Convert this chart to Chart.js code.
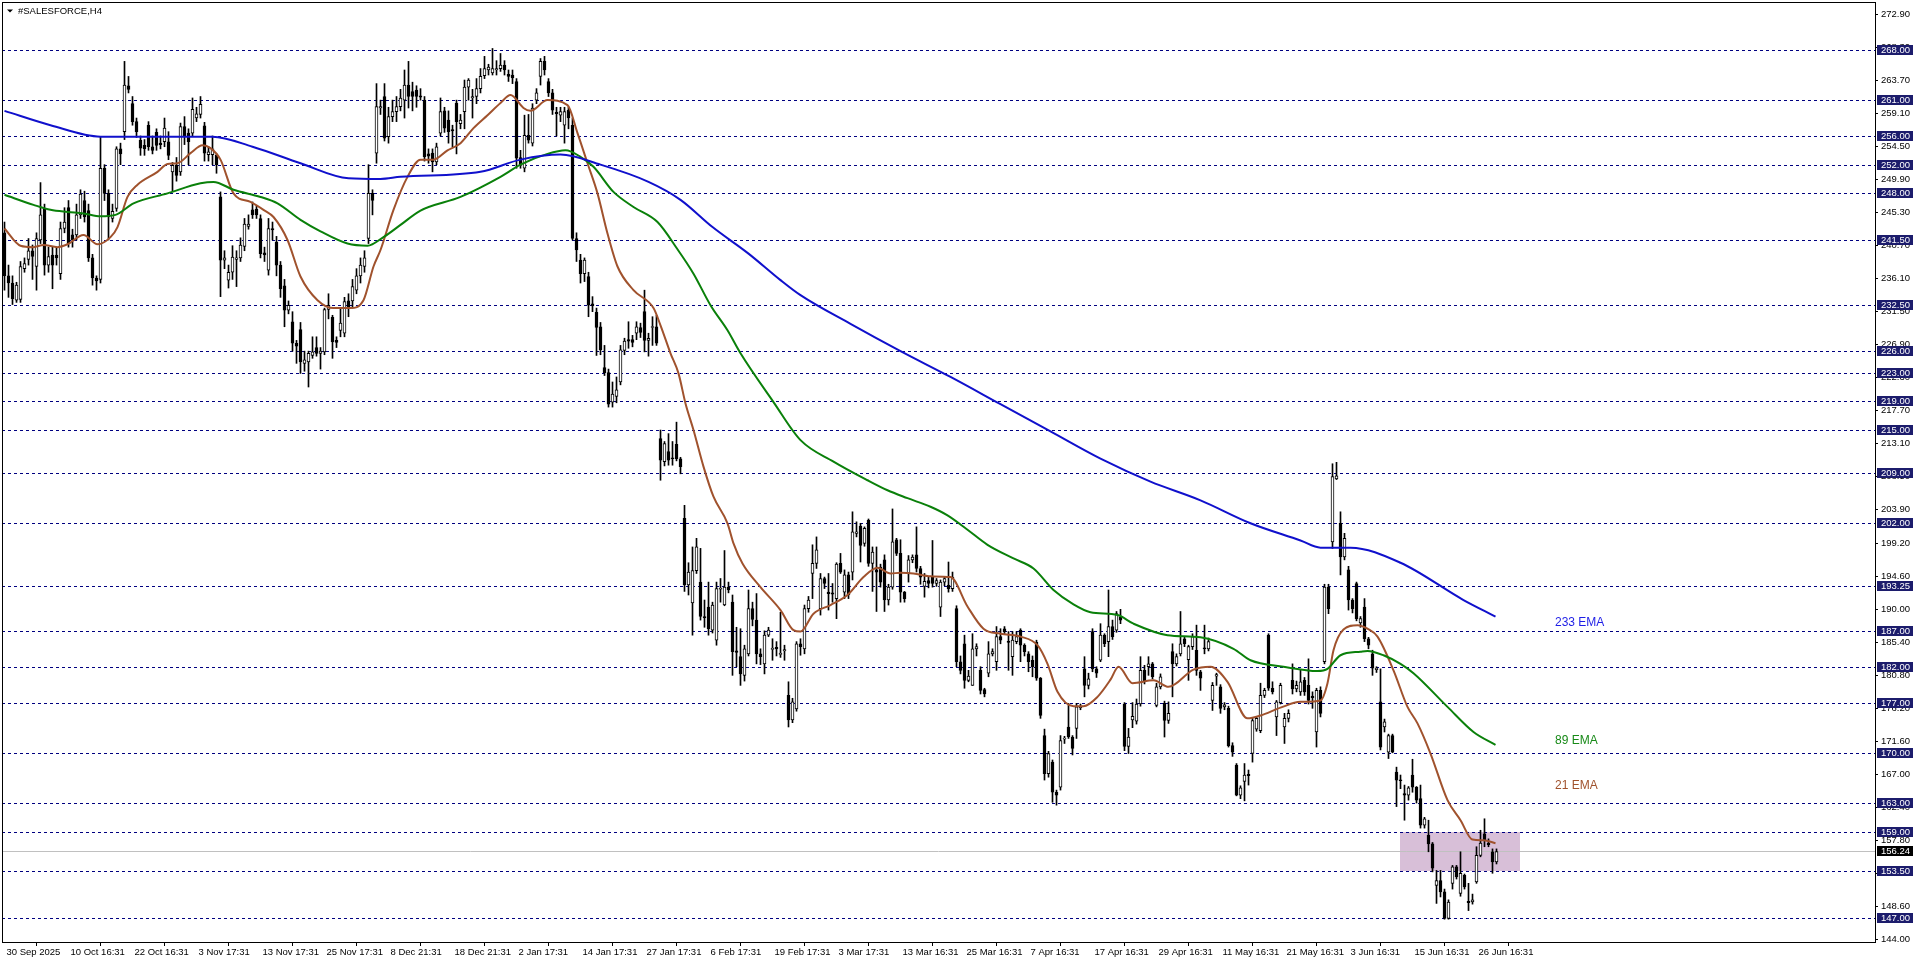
<!DOCTYPE html>
<html>
<head>
<meta charset="utf-8">
<script src="https://cdn.jsdelivr.net/npm/chart.js@4.4.1/dist/chart.umd.min.js"></script>
<style>
html, body { margin: 0; padding: 0; background: #fff; overflow: hidden; }
#wrap { width: 1916px; height: 963px; }
</style>
</head>
<body>
<div id="wrap"><canvas id="chart" width="1916" height="963"></canvas></div>
<script>
// H4 candles, one per bar
const opens = [
  242.5,236.5,235.5,233.1,233.2,237.5,238.8,240.0,237.8,241.5,
  245.9,238.0,239.4,239.4,236.8,243.1,246.0,242.2,242.2,245.0,
  247.0,245.6,239.0,236.2,236.0,251.5,248.0,244.5,245.9,254.2,
  256.6,263.0,260.5,258.0,255.4,254.7,257.5,254.5,256.5,255.0,
  255.2,255.2,251.0,251.9,251.0,257.3,256.4,256.4,258.5,259.0,
  257.4,253.4,253.4,253.3,247.5,238.7,235.9,237.0,238.8,239.0,
  240.6,243.4,245.7,245.8,244.5,239.7,237.3,243.1,241.2,238.0,
  235.1,231.7,230.1,227.1,229.0,224.3,224.5,225.4,226.5,225.7,
  225.9,231.8,230.7,227.5,228.9,228.5,233.0,233.0,234.5,236.5,
  237.8,241.7,248.0,253.6,259.9,261.5,255.9,258.7,259.4,260.1,
  261.0,263.1,262.2,262.4,261.6,261.0,253.5,253.6,252.4,256.4,
  259.5,258.2,256.9,260.6,257.7,259.4,262.8,261.3,261.5,262.6,
  264.4,265.2,264.8,265.2,265.4,265.9,264.6,264.5,263.6,253.0,
  251.5,256.1,255.0,261.0,264.3,266.4,263.6,262.0,259.3,258.9,
  257.5,259.6,257.5,241.7,238.7,236.8,236.4,232.6,231.4,229.4,
  223.7,223.0,218.9,219.7,221.7,226.1,227.6,227.6,228.5,229.3,
  231.5,227.5,229.3,229.4,213.8,210.6,212.0,211.1,213.0,211.0,
  202.7,193.4,190.9,195.4,193.8,189.0,190.3,187.1,185.7,192.8,
  190.6,193.1,191.0,184.2,183.4,180.8,183.8,190.1,188.5,183.8,
  182.4,186.4,184.4,184.7,183.7,184.2,178.0,174.6,176.1,185.2,
  184.5,190.1,195.0,196.4,190.1,194.3,192.4,192.3,191.5,196.4,
  192.4,194.8,195.2,200.6,201.6,199.2,202.4,196.4,195.5,195.9,
  196.9,191.3,193.1,199.7,197.8,192.4,195.0,196.9,197.6,195.7,
  193.2,194.0,194.5,193.6,190.3,193.8,193.4,192.9,190.1,182.7,
  185.2,180.1,179.4,184.5,181.5,178.8,181.1,183.8,182.7,186.2,
  187.3,185.5,183.4,185.5,187.1,185.0,183.8,182.9,185.4,180.4,
  172.4,167.1,168.7,164.5,165.2,171.9,173.6,172.2,173.4,176.3,
  181.7,179.4,186.9,181.7,182.9,186.4,185.5,187.6,187.1,188.9,
  176.8,170.9,174.6,174.4,176.8,181.5,182.0,182.4,176.6,179.2,
  176.9,174.5,184.1,182.4,183.8,185.9,183.0,184.8,184.3,181.3,
  184.6,184.5,177.3,180.7,179.2,176.4,176.2,171.0,168.3,164.1,
  166.0,167.0,169.9,173.3,173.1,178.0,186.4,179.0,175.0,177.0,
  173.6,174.8,180.1,178.9,178.5,180.1,179.4,177.9,172.9,178.7,
  182.7,193.1,199.4,208.2,202.0,197.3,195.5,191.3,193.6,188.1,
  190.3,185.9,183.8,181.6,177.1,173.6,170.1,172.4,167.3,166.2,
  164.3,164.1,166.9,165.2,163.6,159.9,158.5,157.3,151.5,152.2,
  150.6,146.9,151.8,154.1,150.4,152.9,149.3,149.2,152.0,155.7,
  158.7,157.4,156.2,154.8
];
const highs = [
  244.0,238.0,236.5,235.6,238.5,239.0,241.7,240.8,242.5,249.5,
  246.5,240.5,240.5,240.5,244.0,246.0,247.0,243.0,246.5,248.5,
  248.3,246.5,239.5,236.5,255.9,252.0,248.5,246.5,254.5,255.0,
  266.4,264.3,261.5,258.5,256.0,255.5,258.0,256.0,257.0,256.0,
  258.5,256.6,252.3,253.0,257.8,258.7,257.0,261.3,260.0,261.5,
  257.9,254.5,256.0,253.5,248.2,240.0,238.0,240.7,240.0,241.8,
  244.5,245.0,246.8,246.3,245.0,240.5,244.5,244.0,242.0,238.5,
  236.0,233.0,231.5,227.5,230.0,226.0,226.0,228.0,228.0,226.5,
  232.0,234.0,231.0,228.0,232.0,233.5,234.0,236.0,237.5,239.0,
  240.0,252.0,248.5,263.3,261.0,263.3,260.0,261.0,261.5,262.5,
  265.2,266.4,263.5,263.0,262.6,261.5,254.2,254.2,255.0,261.3,
  260.0,259.5,257.5,261.0,259.0,263.8,264.0,262.5,264.0,265.4,
  267.1,266.0,268.2,266.5,267.5,266.5,265.2,265.2,264.0,254.0,
  258.9,259.0,260.5,262.6,266.8,267.1,264.0,262.5,260.0,260.0,
  260.0,260.0,258.5,242.5,239.5,239.0,237.0,233.6,232.0,230.0,
  226.8,223.5,221.7,222.4,226.8,227.8,230.1,228.2,230.1,229.9,
  234.5,228.5,230.8,231.0,215.0,213.4,214.5,213.4,216.1,211.2,
  204.5,196.5,198.7,199.9,198.5,191.3,193.8,191.0,193.8,194.3,
  198.2,193.8,192.0,187.5,187.3,185.0,192.7,191.0,192.2,184.5,
  187.0,187.5,185.9,185.5,189.6,185.0,179.9,177.6,185.5,185.9,
  190.6,191.8,199.0,200.1,195.0,194.5,195.0,193.6,196.5,197.8,
  195.5,195.2,203.6,202.2,202.0,201.5,202.6,198.7,198.7,196.3,
  197.6,193.5,204.0,199.9,199.7,192.5,197.5,197.6,201.5,196.0,
  195.0,194.5,199.6,194.3,194.1,194.5,196.6,195.2,190.5,183.5,
  186.4,181.5,186.6,185.2,182.0,179.0,185.5,184.5,187.6,187.3,
  187.6,186.9,186.9,186.9,187.3,185.2,184.1,183.5,185.7,180.5,
  173.3,170.2,169.0,164.8,172.4,172.3,176.9,172.4,176.9,176.8,
  183.4,181.1,187.3,182.0,188.0,186.6,192.7,188.5,189.7,190.0,
  177.0,173.4,177.0,177.5,183.4,182.2,183.4,182.6,179.7,181.0,
  177.2,177.1,185.2,183.8,189.7,186.2,185.0,186.6,187.8,181.5,
  187.8,186.0,179.8,181.1,179.5,177.0,176.5,171.4,168.5,165.4,
  168.5,167.6,174.8,175.0,179.7,179.0,186.6,179.9,177.3,179.7,
  175.5,176.0,182.4,180.0,181.5,180.5,183.1,178.5,179.0,179.2,
  193.5,193.5,210.3,210.5,203.6,200.6,196.0,191.5,193.8,189.0,
  191.5,186.1,184.3,182.0,181.7,174.7,172.6,172.6,168.0,166.9,
  165.5,165.3,169.1,165.3,165.5,161.0,160.6,157.5,153.6,153.6,
  151.0,149.5,154.3,154.3,156.2,153.1,151.8,150.3,156.9,159.2,
  160.8,158.0,156.6,156.6
];
const lows = [
  234.5,233.5,232.5,232.8,232.8,237.0,238.0,236.0,234.5,241.0,
  236.6,237.0,234.7,238.0,236.0,242.5,240.5,240.5,241.5,244.5,
  244.0,238.5,235.2,234.5,235.5,247.0,241.5,244.0,245.5,252.0,
  255.5,262.0,257.5,255.8,253.3,253.3,254.0,253.5,254.0,254.2,
  254.5,252.7,248.3,249.7,250.5,254.8,252.0,256.0,258.0,258.5,
  252.5,252.5,252.0,250.8,233.6,237.5,234.8,236.0,235.0,238.5,
  240.0,243.0,244.5,244.5,239.0,238.5,236.6,241.5,236.5,233.5,
  229.4,231.2,226.0,224.3,222.9,223.2,221.0,225.0,225.3,223.5,
  225.5,230.5,225.0,226.5,228.0,228.0,230.8,232.0,234.0,235.5,
  237.0,241.0,245.0,252.2,259.0,255.3,255.0,258.0,258.0,259.5,
  258.5,259.9,259.5,260.0,261.0,252.5,252.2,251.0,252.0,256.0,
  256.5,255.0,254.5,253.5,257.0,257.0,261.0,258.5,260.5,262.0,
  264.0,264.5,264.5,264.5,265.0,264.5,263.6,263.3,251.5,251.5,
  251.0,255.0,254.6,260.5,263.1,264.5,261.5,259.0,256.0,258.0,
  255.0,257.0,241.5,238.5,235.5,235.7,230.8,231.5,225.4,225.5,
  222.6,218.2,218.2,218.8,221.3,225.5,226.4,226.6,227.6,227.9,
  225.9,225.3,226.8,226.8,208.0,210.0,210.1,210.1,210.7,208.9,
  192.5,192.0,186.4,195.0,188.5,187.5,186.4,186.7,185.0,191.0,
  190.5,192.3,180.8,182.0,179.4,180.0,183.5,187.7,182.4,182.3,
  181.0,186.2,182.9,183.5,183.3,182.9,173.6,174.2,175.8,183.6,
  183.8,189.6,191.5,195.7,189.2,192.9,189.9,191.0,188.7,195.0,
  191.5,191.5,194.1,200.1,196.6,198.8,196.0,192.5,189.7,193.1,
  189.7,190.6,192.8,197.5,191.0,191.0,193.8,196.5,195.2,193.5,
  191.7,193.0,193.1,193.2,189.0,193.3,192.4,192.5,182.0,181.0,
  179.0,179.9,179.4,183.5,178.2,177.8,180.6,183.5,181.5,185.2,
  186.5,181.5,180.8,185.2,182.7,183.5,181.3,180.6,180.1,174.8,
  166.2,166.6,163.1,162.7,164.8,171.3,172.0,169.7,172.0,176.0,
  177.8,178.9,181.3,180.5,182.7,184.8,183.4,185.8,186.8,188.0,
  170.3,169.9,173.5,174.0,176.5,179.6,180.8,180.3,176.4,178.9,
  172.2,174.1,177.8,182.1,183.5,184.8,180.1,184.4,180.8,178.7,
  183.8,184.2,175.9,179.4,175.5,176.0,170.8,169.5,164.0,163.6,
  163.3,165.5,168.7,173.0,172.8,177.7,178.7,178.2,172.4,176.8,
  171.3,174.3,178.2,178.5,178.0,178.0,176.8,176.2,170.8,175.0,
  182.4,189.4,198.5,208.1,194.8,196.9,189.9,189.5,188.4,187.5,
  185.5,184.5,180.8,181.2,170.4,172.9,169.2,170.0,162.5,165.0,
  160.6,163.4,164.5,163.0,159.5,159.5,156.2,153.4,149.0,149.9,
  146.8,146.8,151.0,152.4,150.0,151.0,148.0,148.9,151.8,155.5,
  156.9,156.9,153.2,154.5
];
const closes = [
  236.5,235.5,233.3,235.2,237.8,238.2,240.0,239.2,241.7,245.0,
  238.0,239.2,238.0,239.0,243.1,244.0,241.0,241.5,245.0,247.9,
  244.7,239.0,236.2,235.8,251.5,248.0,244.7,245.5,254.2,253.5,
  263.1,262.5,258.0,256.6,254.3,254.2,254.5,254.0,254.7,254.8,
  257.1,253.3,251.9,250.5,257.3,255.9,255.2,259.7,259.1,260.4,
  253.6,253.8,254.2,252.0,238.7,239.0,237.0,239.1,239.0,240.8,
  243.7,243.7,245.0,245.0,239.6,239.4,243.1,242.9,238.0,234.7,
  231.7,232.4,227.1,226.7,224.5,224.8,225.7,225.9,225.7,226.0,
  231.8,232.4,227.3,227.2,229.9,232.9,232.0,235.0,236.5,238.0,
  239.0,248.0,247.0,260.1,260.1,255.7,258.7,259.4,260.1,261.3,
  263.1,261.5,261.5,261.5,261.4,253.1,253.2,252.4,254.5,259.4,
  257.1,256.6,256.7,258.0,258.2,262.8,263.8,261.5,262.6,264.3,
  265.4,265.6,265.4,265.4,265.9,265.2,264.3,264.1,252.9,251.9,
  256.1,255.4,259.9,262.0,266.4,265.2,262.0,259.6,259.1,259.4,
  259.4,258.5,241.7,240.1,236.8,238.7,232.4,232.3,229.3,226.2,
  223.0,218.6,220.0,220.6,226.2,227.4,227.4,227.2,229.4,228.6,
  227.5,227.8,229.4,227.1,210.8,213.1,210.8,211.0,211.0,209.9,
  193.4,195.2,195.4,198.7,189.0,188.8,187.3,190.6,192.9,192.9,
  193.1,192.7,184.1,184.0,181.0,184.5,190.1,188.6,183.8,183.4,
  186.4,187.1,184.6,184.5,183.9,184.4,174.6,177.1,185.2,184.8,
  190.1,191.3,196.4,198.3,194.3,193.6,192.2,192.1,196.3,195.2,
  194.8,192.0,200.8,200.8,198.9,201.3,196.4,198.0,195.2,193.8,
  191.3,193.1,199.4,197.8,192.4,191.5,196.9,197.3,195.7,194.5,
  193.9,193.6,193.6,194.0,193.8,194.3,192.9,194.5,182.7,181.5,
  180.1,180.7,184.5,184.8,178.7,178.2,183.8,184.1,186.2,185.7,
  186.9,185.4,185.7,186.2,185.0,184.1,182.7,182.0,180.4,175.2,
  167.1,169.9,164.5,164.1,171.7,172.0,172.2,170.6,176.4,176.5,
  179.4,180.3,181.7,181.1,186.4,185.2,187.6,186.2,189.4,188.5,
  170.9,172.2,175.1,176.8,181.5,179.9,182.4,180.6,179.2,180.6,
  174.5,175.5,182.4,183.4,185.2,185.2,184.8,186.2,181.5,180.4,
  184.5,185.5,179.4,180.9,176.2,176.7,171.0,170.1,164.1,165.1,
  166.9,166.8,174.5,174.8,178.0,178.7,179.0,178.5,177.1,179.4,
  174.8,175.5,178.9,179.4,179.9,178.5,177.3,177.7,178.7,175.5,
  193.1,190.1,208.5,208.6,197.3,199.9,191.3,190.1,188.7,188.7,
  185.9,185.0,181.8,181.8,170.8,174.3,172.4,170.1,166.2,166.1,
  164.1,165.1,165.2,163.4,159.9,160.8,157.3,153.9,152.2,150.6,
  146.9,149.2,154.1,152.7,153.2,151.3,149.1,149.5,155.7,157.4,
  157.8,157.2,154.8,156.24
];

// moving averages, [bar index, price]
const ema233 = [
  [0,259.5],[11.5,257.5],[24,255.9],[32,255.9],[52,255.9],[62,254.5],[74,252.2],[86,250.1],
  [94,250.0],[99,250.3],[119,251.0],[129,252.7],[139,253.4],[149,252.0],[161,249.6],[169,247.1],
  [177,243.3],[186,239.6],[194,235.9],[199,233.8],[211.5,229.8],[224,226.0],[236.5,222.4],
  [249,218.6],[261.5,214.8],[274,211.0],[286.5,207.8],[299,205.2],[311.5,202.0],[324,199.6],
  [329,198.6],[336.5,198.6],[349,196.5],[364.75,191.3],[372.75,189.0]
];
const ema89 = [
  [0,247.8],[7.25,246.4],[11.5,245.7],[15.75,245.4],[19.75,245.2],[24,244.8],[27.75,245.0],
  [32.25,246.6],[40.75,248.0],[49,249.4],[52.25,249.6],[57.25,248.5],[64,247.5],[68.25,246.6],
  [74,244.3],[79,242.7],[85.75,241.0],[90.75,240.7],[94.75,241.9],[99,243.6],[104,245.6],
  [114,247.5],[124,250.3],[129,252.0],[135.75,253.5],[140.25,254.0],[144,253.1],[147.25,251.7],
  [152.25,248.2],[157.25,246.1],[163.25,244.0],[168.25,240.2],[172.25,236.8],[176.5,232.4],
  [180.75,228.9],[184,225.7],[192.25,218.9],[199,213.6],[207.25,210.6],[215.75,208.0],
  [220.75,206.6],[225.75,205.5],[231.5,204.3],[235.75,203.1],[240.75,201.1],[245.75,199.0],
  [252.25,197.1],[257.25,195.7],[262.25,192.7],[267.25,190.7],[271.5,189.6],[278.25,189.2],
  [282.25,188.0],[290.75,186.4],[299,186.1],[307.25,184.5],[311.5,182.9],[319.75,182.0],
  [328.25,181.4],[330.75,181.7],[334,183.6],[339,184.1],[340.75,184.2],[344.75,183.6],
  [349,182.4],[352.25,181.1],[360.75,176.4],[367.25,172.9],[372.75,171.1]
];
const ema21 = [
  [0,243.1],[4,240.7],[7.25,240.5],[9.75,240.8],[13.25,240.5],[15.75,240.9],[19.75,242.2],
  [23.25,240.9],[26.5,241.9],[28.25,243.3],[30.75,247.5],[33.25,249.2],[38.25,251.0],
  [40.75,252.1],[43.25,252.2],[46.5,253.6],[49.5,254.7],[51.5,254.3],[54,252.7],[57.25,248.0],
  [61.5,246.8],[64.75,245.7],[67.25,244.7],[70.75,241.5],[74,236.4],[78.25,233.1],[82.25,232.0],
  [86.5,232.0],[89.75,233.1],[92.25,237.8],[94,240.1],[97.25,245.7],[100.75,250.3],[104,252.7],
  [107.25,252.7],[110.75,254.0],[114,255.0],[117.25,257.1],[120.75,258.9],[124,260.6],
  [126.5,261.7],[127.25,261.5],[129.75,259.9],[131.5,259.5],[135.75,261.0],[140.75,260.3],
  [143.25,256.4],[145.75,252.2],[148.25,248.0],[150.75,242.4],[153.25,237.8],[157.25,234.5],
  [162.25,232.0],[164,229.6],[166.5,225.7],[168.5,222.9],[170.25,218.7],[172.25,215.0],
  [174.75,209.9],[177.25,205.7],[180.75,202.0],[182.25,199.2],[184.5,196.4],[189,193.1],
  [194,189.9],[197.25,187.1],[199,186.9],[202.25,189.4],[206.5,190.6],[210.75,192.0],
  [214.75,194.5],[218.25,195.8],[221.5,195.0],[224,195.1],[227.25,195.0],[231.5,194.6],
  [236.5,194.5],[240.75,190.4],[244.75,187.3],[249,186.6],[254,186.2],[258.25,185.0],
  [260.75,182.4],[263.25,178.5],[267.25,176.5],[269.75,176.5],[273.25,177.8],[276.5,180.2],
  [278.5,182.0],[282,179.7],[287.25,180.1],[291,179.2],[297.25,181.6],[301.5,182.0],
  [305.75,179.9],[310.75,174.8],[314,175.2],[319,176.3],[324,177.1],[329,177.3],[330.75,179.7],
  [332.25,184.3],[334.75,187.2],[338.25,187.8],[340.75,187.3],[343.25,186.2],[347.25,181.5],
  [350.75,176.4],[353.25,174.1],[356.5,169.9],[360.75,163.4],[364,160.6],[367,157.9],
  [369.75,157.8],[372.75,157.4]
];

// horizontal support / resistance levels and the marked zone
const levels = [268, 261, 256, 252, 248, 241.5, 232.5, 226, 223, 219, 215, 209, 202,
                193.25, 187, 182, 177, 170, 163, 159, 153.5, 147];
const zoneBars = [348.75, 378.75];
const zonePrices = [159, 153.5];

const priceTicks = ['144.00','148.60','153.20','157.80','162.40','167.00','171.60','176.20',
  '180.80','185.40','190.00','194.60','199.20','203.90','208.50','213.10','217.70','222.30',
  '226.90','231.50','236.10','240.70','245.30','249.90','254.50','259.10','263.70','268.30','272.90'];
const timeLabels = ['30 Sep 2025','10 Oct 16:31','22 Oct 16:31','3 Nov 17:31','13 Nov 17:31',
  '25 Nov 17:31','8 Dec 21:31','18 Dec 21:31','2 Jan 17:31','14 Jan 17:31','27 Jan 17:31',
  '6 Feb 17:31','19 Feb 17:31','3 Mar 17:31','13 Mar 16:31','25 Mar 16:31','7 Apr 16:31',
  '17 Apr 16:31','29 Apr 16:31','11 May 16:31','21 May 16:31','3 Jun 16:31','15 Jun 16:31',
  '26 Jun 16:31'];
const timeBars = [0,16,32,48,64,80,96,112,128,144,160,176,192,208,224,240,256,272,288,304,320,336,352,368];

const FONT = '"Liberation Sans", Arial, sans-serif';
Chart.defaults.font.family = FONT;
Chart.defaults.font.size = 9.5;
Chart.defaults.color = '#000';

const wicks = closes.map((c, i) => ({x: i, y: [lows[i], highs[i]]}));
const bodies = closes.map((c, i) => ({x: i, y: [opens[i], c]}));
const bodyColors = closes.map((c, i) => c >= opens[i] ? '#ffffff' : '#000000');
const pts = arr => arr.map(p => ({x: p[0], y: p[1]}));

const overlay = {
  id: 'overlay',
  beforeDatasetsDraw(chart) {
    const {ctx, chartArea: a, scales: {x, y}} = chart;
    ctx.save();
    const zx1 = x.getPixelForValue(zoneBars[0]), zx2 = x.getPixelForValue(zoneBars[1]);
    const zy1 = y.getPixelForValue(zonePrices[0]), zy2 = y.getPixelForValue(zonePrices[1]);
    ctx.fillStyle = '#d8bfd8';
    ctx.fillRect(Math.round(zx1), Math.round(zy1), Math.round(zx2 - zx1), Math.round(zy2 - zy1));

    ctx.strokeStyle = '#000080';
    ctx.lineWidth = 1;
    ctx.setLineDash([3, 3]);
    levels.forEach(v => {
      const py = Math.round(y.getPixelForValue(v)) + 0.5;
      ctx.beginPath(); ctx.moveTo(a.left, py); ctx.lineTo(a.right, py); ctx.stroke();
    });
    ctx.setLineDash([]);
    const last = closes[closes.length - 1];
    const cy = Math.round(y.getPixelForValue(last)) + 0.5;
    ctx.strokeStyle = '#c0c0c0';
    ctx.beginPath(); ctx.moveTo(a.left, cy); ctx.lineTo(a.right, cy); ctx.stroke();
    ctx.restore();
  },
  afterDraw(chart) {
    const {ctx, chartArea: a, scales: {y}} = chart;
    ctx.save();
    // frame
    ctx.strokeStyle = '#000';
    ctx.lineWidth = 1;
    ctx.strokeRect(a.left + 0.5, a.top - 0.5, a.right - a.left, a.bottom - a.top + 1);

    // level price tags on the axis
    ctx.font = '9.5px ' + FONT;
    ctx.textBaseline = 'middle';
    ctx.textAlign = 'left';
    levels.forEach(v => {
      const py = Math.round(y.getPixelForValue(v));
      ctx.fillStyle = '#1c1c6c';
      ctx.fillRect(a.right + 2, py - 5, 36, 10);
      ctx.fillStyle = '#fff';
      ctx.fillText(v.toFixed(2), a.right + 6, py + 0.5);
    });
    const last = closes[closes.length - 1];
    const cy = Math.round(y.getPixelForValue(last));
    ctx.fillStyle = '#000';
    ctx.fillRect(a.right + 2, cy - 5, 36, 10);
    ctx.fillStyle = '#fff';
    ctx.fillText(last.toFixed(2), a.right + 6, cy + 0.5);

    // title
    ctx.fillStyle = '#000';
    ctx.beginPath(); ctx.moveTo(7, 9.5); ctx.lineTo(13, 9.5); ctx.lineTo(10, 12.5); ctx.closePath(); ctx.fill();
    ctx.textBaseline = 'alphabetic';
    ctx.fillText('#SALESFORCE,H4', 18, 14);

    // moving average captions
    ctx.font = '12px ' + FONT;
    ctx.fillStyle = '#1e1ee6'; ctx.fillText('233 EMA', 1555, 626);
    ctx.fillStyle = '#188a18'; ctx.fillText('89 EMA', 1555, 744);
    ctx.fillStyle = '#a0522d'; ctx.fillText('21 EMA', 1555, 789);
    ctx.restore();
  }
};

new Chart(document.getElementById('chart'), {
  data: {
    datasets: [
      {type: 'line', data: pts(ema233), borderColor: '#1010cc', borderWidth: 2, pointRadius: 0,
       cubicInterpolationMode: 'monotone', order: 0},
      {type: 'line', data: pts(ema89), borderColor: '#0a800a', borderWidth: 2, pointRadius: 0,
       cubicInterpolationMode: 'monotone', order: 0},
      {type: 'line', data: pts(ema21), borderColor: '#a0522d', borderWidth: 2, pointRadius: 0,
       cubicInterpolationMode: 'monotone', order: 0},
      {type: 'bar', data: bodies, backgroundColor: bodyColors, borderColor: '#000', borderWidth: 1,
       borderSkipped: false, barThickness: 3, minBarLength: 1, grouped: false, order: 1},
      {type: 'bar', data: wicks, backgroundColor: '#000', barThickness: 1, grouped: false, order: 2}
    ]
  },
  options: {
    responsive: false,
    animation: false,
    events: [],
    layout: {padding: {left: 2, top: 3, right: 0, bottom: 0}},
    plugins: {legend: {display: false}, tooltip: {enabled: false}},
    scales: {
      x: {
        type: 'linear', min: -0.625, max: 467.625, offset: false,
        afterFit: s => { s.height = 21; s.paddingLeft = 0; s.paddingRight = 0; },
        afterBuildTicks: s => { s.ticks = timeBars.map(v => ({value: v})); },
        ticks: {autoSkip: false, maxRotation: 0, align: 'start', padding: 1, labelOffset: 2,
                callback: (v, i) => timeLabels[i]},
        grid: {drawOnChartArea: false, drawTicks: true, tickLength: 4, color: '#000'},
        border: {display: false}
      },
      y: {
        type: 'linear', position: 'right', min: 143.62, max: 274.54,
        afterFit: s => { s.width = 41; s.paddingTop = 0; s.paddingBottom = 0; },
        afterBuildTicks: s => { s.ticks = priceTicks.map(t => ({value: parseFloat(t)})); },
        ticks: {autoSkip: false, padding: 3, callback: (v, i) => priceTicks[i]},
        grid: {drawOnChartArea: false, drawTicks: true, tickLength: 3, color: '#000'},
        border: {display: false}
      }
    }
  },
  plugins: [overlay]
});
</script>
</body>
</html>
